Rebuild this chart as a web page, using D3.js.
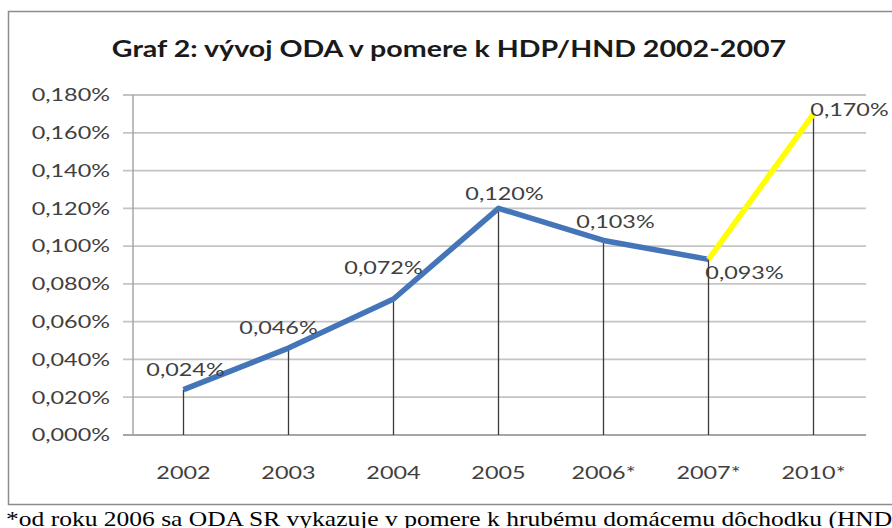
<!DOCTYPE html>
<html>
<head>
<meta charset="utf-8">
<script src="https://cdn.jsdelivr.net/npm/d3@7"></script>
<style>
  body { margin: 0; background: #fff; }
  svg { display: block; }
</style>
</head>
<body>
<div id="chart"></div>
<script>
// chart data
var years = ["2002", "2003", "2004", "2005", "2006*", "2007*", "2010*"];
var odaShare = [0.024, 0.046, 0.072, 0.120, 0.103, 0.093, 0.170];
var yTicks = [0, 0.02, 0.04, 0.06, 0.08, 0.10, 0.12, 0.14, 0.16, 0.18];
var titleText = "Graf 2: vývoj ODA v pomere k HDP/HND 2002-2007";
var noteText = "*od roku 2006 sa ODA SR vykazuje v pomere k hrubému domácemu dôchodku (HND)";

// where each data label sits relative to its point
var labelOffset = {
    "2002": [2, -14], "2003": [-10, -14], "2004": [-10, -25], "2005": [6, -8],
    "2006*": [12, -12], "2007*": [36, 20], "2010*": [36, 2]
};

var W = 892, H = 528;
// the source picture is stretched sideways, so text is widened to match
var SX = 1.3;
var fmt = function(v) { return v.toFixed(3).replace(".", ",") + "%"; };
function at(px, py, sx) { return "translate(" + px + "," + py + ") scale(" + (sx || SX) + ",1)"; }

var svg = d3.select("#chart").append("svg")
    .attr("width", W)
    .attr("height", H);

// chart frame
svg.append("rect")
    .attr("x", 8.5).attr("y", 11.5)
    .attr("width", 920).attr("height", 493)
    .attr("fill", "#fff")
    .attr("stroke", "#8c8c8c")
    .attr("stroke-width", 1.5);

var x = d3.scalePoint()
    .domain(years)
    .range([131, 866])
    .padding(0.5);
var y = d3.scaleLinear()
    .domain([0, 0.18])
    .range([435, 95]);

// horizontal gridlines
svg.append("g")
    .selectAll("line")
    .data(yTicks)
    .enter().append("line")
    .attr("x1", 123).attr("x2", 866)
    .attr("y1", function(d) { return y(d); })
    .attr("y2", function(d) { return y(d); })
    .attr("stroke", function(d) { return d === 0 ? "#a6a6a6" : "#c4c4c4"; })
    .attr("stroke-width", 1.8);

// y axis line
svg.append("line")
    .attr("x1", 133).attr("x2", 133)
    .attr("y1", y(0.18)).attr("y2", y(0))
    .attr("stroke", "#a6a6a6")
    .attr("stroke-width", 1.5);

// y tick labels
svg.append("g")
    .selectAll("text")
    .data(yTicks)
    .enter().append("text")
    .attr("transform", function(d) { return at(110, y(d)); })
    .attr("dy", "0.35em")
    .attr("text-anchor", "end")
    .style("font-family", "Lato")
    .style("font-size", "18px")
    .style("fill", "#404040")
    .text(fmt);

// x labels
svg.append("g")
    .selectAll("text")
    .data(years)
    .enter().append("text")
    .attr("transform", function(d) { return at(x(d), 473); })
    .attr("dy", "0.35em")
    .attr("text-anchor", "middle")
    .style("font-family", "Lato")
    .style("font-size", "18px")
    .style("fill", "#404040")
    .text(function(d) { return d; });

var pts = years.map(function(d, i) { return {year: d, value: odaShare[i]}; });

// drop lines from each point to the axis
svg.append("g")
    .selectAll("line")
    .data(pts)
    .enter().append("line")
    .attr("x1", function(d) { return x(d.year); })
    .attr("x2", function(d) { return x(d.year); })
    .attr("y1", function(d) { return y(d.value); })
    .attr("y2", y(0))
    .attr("stroke", "#3a3a3a")
    .attr("stroke-width", 1.3);

var line = d3.line()
    .x(function(d) { return x(d.year); })
    .y(function(d) { return y(d.value); });

// 2002-2007 in blue, 2007-2010 outlook in yellow
svg.append("path")
    .datum(pts.slice(0, 6))
    .attr("d", line)
    .attr("fill", "none")
    .attr("stroke", "#4575b9")
    .attr("stroke-width", 5.5)
    .attr("stroke-linejoin", "round");

svg.append("path")
    .datum(pts.slice(5))
    .attr("d", line)
    .attr("fill", "none")
    .attr("stroke", "#ffff00")
    .attr("stroke-width", 5.5)
    .attr("stroke-linecap", "butt");

// data labels
svg.append("g")
    .selectAll("text")
    .data(pts)
    .enter().append("text")
    .attr("transform", function(d) {
        return at(x(d.year) + labelOffset[d.year][0], y(d.value) + labelOffset[d.year][1]);
    })
    .attr("text-anchor", "middle")
    .style("font-family", "Lato")
    .style("font-size", "18px")
    .style("fill", "#404040")
    .text(function(d) { return fmt(d.value); });

// title
svg.append("text")
    .attr("transform", at(449, 57))
    .attr("text-anchor", "middle")
    .style("font-family", "Lato")
    .style("font-weight", "bold")
    .style("font-size", "22px")
    .style("fill", "#1a1a1a")
    .text(titleText);

// footnote under the chart (cut at the right edge, as in the source)
svg.append("text")
    .attr("transform", at(6, 526, 1.215))
    .style("font-family", "Liberation Serif")
    .style("font-size", "21px")
    .style("fill", "#000")
    .text(noteText);
</script>
</body>
</html>
